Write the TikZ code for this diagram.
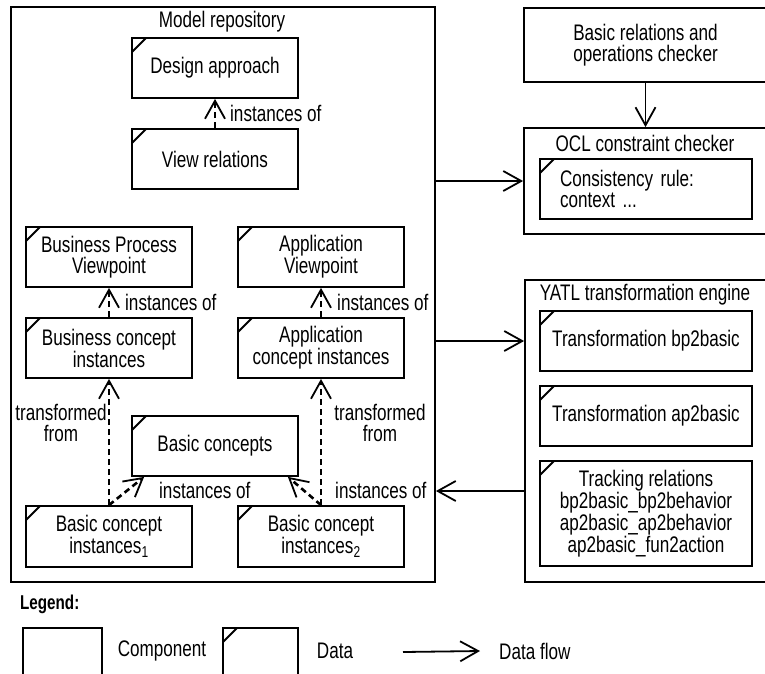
\documentclass[tikz,border=0pt]{standalone}
\usepackage{fontspec}
\setmainfont[FakeStretch=0.76]{Liberation Sans}
\usetikzlibrary{arrows.meta}
\begin{document}
\begin{tikzpicture}[x=1pt,y=-1pt,
  every node/.style={font=\fontsize{22.5}{20.5}\selectfont, inner sep=0pt},
  comp/.style={draw, rectangle, line width=1.8pt, align=center},
  datab/.style={comp, path picture={\draw[line width=1.8pt]
      ([yshift=-14pt]path picture bounding box.north west) --
      ([xshift=14pt]path picture bounding box.north west);}},
  small/.style={minimum width=166pt, minimum height=60pt},
  inner/.style={minimum width=212pt, minimum height=60pt},
  lbl/.style={align=center},
  flow/.style={line width=1.8pt, -{Straight Barb[length=18pt,width=20pt,line width=1.8pt]}},
  inst/.style={line width=2.6pt, dash pattern=on 6pt off 4pt,
      -{Straight Barb[length=18pt,width=20pt,line width=1.8pt]}}]
\useasboundingbox (0,0) rectangle (765,673);
\clip (0,0) rectangle (765,673);

% Model repository and its contents
\node[comp, minimum width=424pt, minimum height=575pt] (repo) at (223,294.5) {};
\node[lbl] (repotitle) at (222,22) {Model repository};
\node[datab, small] (design) at (215,68) {Design approach};
\node[datab, small] (viewrel) at (215,159) {View relations};
\node[datab, small] (bpv) at (109,257) {Business Process\\Viewpoint};
\node[datab, small] (apv) at (321,257) {Application\\Viewpoint};
\node[datab, small] (bci) at (109,348) {Business concept\\instances};
\node[datab, small] (aci) at (321,348) {Application\\concept instances};
\node[datab, small] (basic) at (215,446) {Basic concepts};
\node[datab, small, minimum height=61pt] (bi1) at (109,536.5) {Basic concept\\instances\textsubscript{1}};
\node[datab, small, minimum height=61pt] (bi2) at (321,536.5) {Basic concept\\instances\textsubscript{2}};

\draw[inst] (viewrel.north) -- (design.south);
\draw[inst] (bci.north) -- (bpv.south);
\draw[inst] (aci.north) -- (apv.south);
\draw[inst] (bi1.north) -- (bci.south);
\draw[inst] (bi2.north) -- (aci.south);
\draw[inst] (bi1.north) -- ([xshift=13pt]basic.south west);
\draw[inst] (bi2.north) -- ([xshift=-11pt]basic.south east);

\node[lbl, anchor=west] (l1) at (230,113) {instances of};
\node[lbl, anchor=west] (l2) at (125,302) {instances of};
\node[lbl, anchor=west] (l3) at (337,302) {instances of};
\node[lbl] (l4) at (61,423) {transformed\\from};
\node[lbl] (l5) at (380,423) {transformed\\from};
\node[lbl, anchor=west] (l6) at (159,490) {instances of};
\node[lbl, anchor=west] (l7) at (335,490) {instances of};

% Checkers
\node[comp, minimum width=243pt, minimum height=74pt] (checker) at (645.5,45) {Basic relations and\\operations checker};
\node[comp, minimum width=243pt, minimum height=106pt] (ocl) at (645.5,181) {};
\node[lbl] (ocltitle) at (645,143) {OCL constraint checker};
\node[datab, inner, text width=172pt, inner xsep=20pt, align=left] (rule) at (646,189) {Consistency rule:\\context ...};

% Transformation engine
\node[comp, minimum width=242pt, minimum height=302pt] (yatl) at (646,431) {};
\node[lbl] (yatltitle) at (645,295) {YATL transformation engine};
\node[datab, inner] (t1) at (646,341) {Transformation bp2basic};
\node[datab, inner] (t2) at (646,416) {Transformation ap2basic};
\node[datab, inner, minimum height=105pt] (track) at (646,513.5) {Tracking relations\\bp2basic\_bp2behavior\\ap2basic\_ap2behavior\\ap2basic\_fun2action};

\draw[flow] (checker.south) -- (ocl.north);
\draw[flow] (repo.east |- ocl.west) -- (ocl.west);
\draw[flow] (repo.east |- t1.west) -- (yatl.west |- t1.west);
\draw[flow] (yatl.west |- 0,491) -- (repo.east |- 0,491);

% Legend
\node[lbl, anchor=west, font=\fontsize{20}{19}\selectfont\bfseries] (legend) at (20,604) {Legend:};
\node[comp, minimum width=79pt, minimum height=62pt] (lcomp) at (62.5,659) {};
\node[lbl] (lcomptext) at (162,651) {Component};
\node[datab, minimum width=75pt, minimum height=62pt] (ldata) at (260.5,659) {};
\node[lbl] (ldatatext) at (335,651) {Data};
\coordinate (lflowstart) at (403,652);
\node[lbl, anchor=west] (lflowtext) at (499,651) {Data flow};
\draw[flow] (lflowstart) -- ([xshift=-19pt]lflowtext.west);
\end{tikzpicture}
\end{document}
